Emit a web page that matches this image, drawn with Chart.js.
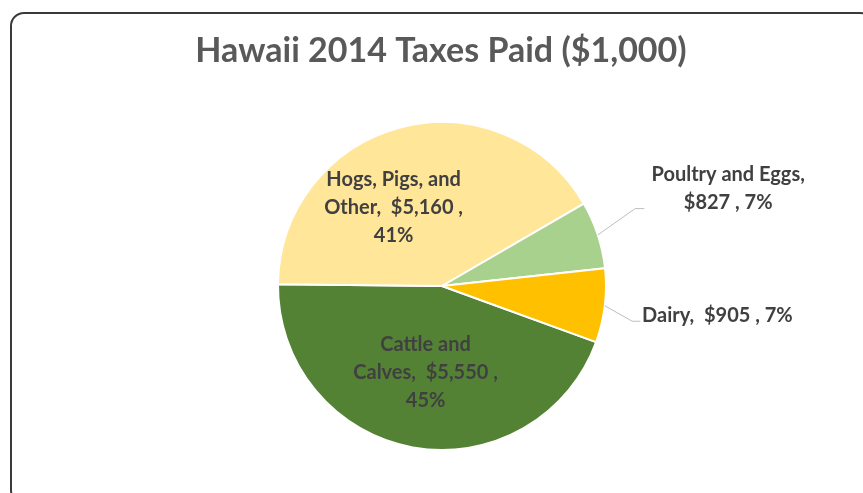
<!DOCTYPE html>
<html>
<head>
<meta charset="utf-8">
<script src="https://cdn.jsdelivr.net/npm/chart.js@4"></script>
<style>
  html, body { margin: 0; padding: 0; background: #fff; }
  #wrap { width: 863px; height: 493px; position: relative; }
</style>
</head>
<body>
<div id="wrap"><canvas id="c" width="863" height="493"></canvas></div>
<script>
// Hawaii 2014 livestock taxes paid, in $1,000
const categories = ['Cattle and Calves', 'Hogs, Pigs, and Other', 'Poultry and Eggs', 'Dairy'];
const taxesPaid = [5550, 5160, 827, 905];
const sliceColors = ['#548235', '#FFE699', '#A9D18E', '#FFC000'];
const chartTitle = 'Hawaii 2014 Taxes Paid ($1,000)';

// Label text lines per slice (value and share filled in at draw time)
function labelLines(i, value, pct) {
  const v = '$' + value.toLocaleString('en-US');
  switch (i) {
    case 0: return ['Cattle and', 'Calves,  ' + v + ' ,', pct + '%'];
    case 1: return ['Hogs, Pigs, and', 'Other,  ' + v + ' ,', pct + '%'];
    case 2: return ['Poultry and Eggs,', v + ' , ' + pct + '%'];
    default: return ['Dairy,  ' + v + ' , ' + pct + '%'];
  }
}

// Label placement, in units of the pie radius relative to its centre
const labelLayout = [
  { dx: -0.10, dy: 0.525, align: 'center' },
  { dx: -0.295, dy: -0.48, align: 'center' },
  { dx: 1.745, dy: -0.595, align: 'center', leader: [[1.178, -0.472], [1.233, -0.472]] },
  { dx: 1.22, dy: 0.18, align: 'left', leader: [[1.16, 0.215], [1.21, 0.215]] }
];

const FONT = 'Lato, "Open Sans", sans-serif';

const framePlugin = {
  id: 'frame',
  beforeDraw(chart) {
    const ctx = chart.ctx;
    ctx.save();
    ctx.fillStyle = '#fff';
    ctx.fillRect(0, 0, chart.width, chart.height);
    ctx.strokeStyle = '#3a3a3a';
    ctx.lineWidth = 2;
    ctx.beginPath();
    ctx.roundRect(11, 13, 862, 490, 13);
    ctx.stroke();
    ctx.fillStyle = '#595959';
    ctx.font = 'bold 34px ' + FONT;
    ctx.textAlign = 'center';
    ctx.textBaseline = 'middle';
    ctx.fillText(chartTitle, 441, 51);
    ctx.restore();
  }
};

const labelPlugin = {
  id: 'sliceLabels',
  afterDatasetsDraw(chart) {
    const ctx = chart.ctx;
    const meta = chart.getDatasetMeta(0);
    const data = chart.data.datasets[0].data;
    const total = data.reduce((a, b) => a + b, 0);
    ctx.save();
    meta.data.forEach((arc, i) => {
      const { x, y, outerRadius: r, startAngle, endAngle } = arc.getProps(['x', 'y', 'outerRadius', 'startAngle', 'endAngle'], true);
      const L = labelLayout[i];
      if (L.leader) {
        const mid = (startAngle + endAngle) / 2;
        ctx.strokeStyle = '#BFBFBF';
        ctx.lineWidth = 1;
        ctx.beginPath();
        ctx.moveTo(x + Math.cos(mid) * r, y + Math.sin(mid) * r);
        L.leader.forEach(p => ctx.lineTo(x + p[0] * r, y + p[1] * r));
        ctx.stroke();
      }
      const pct = Math.round(data[i] / total * 100);
      const lines = labelLines(i, data[i], pct);
      ctx.fillStyle = '#404040';
      ctx.font = 'bold 20px ' + FONT;
      ctx.textAlign = L.align;
      ctx.textBaseline = 'middle';
      const lh = 28;
      const cx = x + L.dx * r, cy = y + L.dy * r;
      lines.forEach((t, k) => {
        ctx.fillText(t, cx, cy + (k - (lines.length - 1) / 2) * lh);
      });
    });
    ctx.restore();
  }
};

new Chart(document.getElementById('c'), {
  type: 'pie',
  data: {
    labels: categories,
    datasets: [{
      data: taxesPaid,
      backgroundColor: sliceColors,
      borderColor: '#ffffff',
      borderWidth: 2
    }]
  },
  options: {
    responsive: false,
    animation: false,
    rotation: 110,
    layout: { padding: { top: 121, bottom: 42, left: 21, right: 0 } },
    plugins: {
      legend: { display: false },
      tooltip: { enabled: false },
      title: { display: false }
    }
  },
  plugins: [framePlugin, labelPlugin]
});
</script>
</body>
</html>
